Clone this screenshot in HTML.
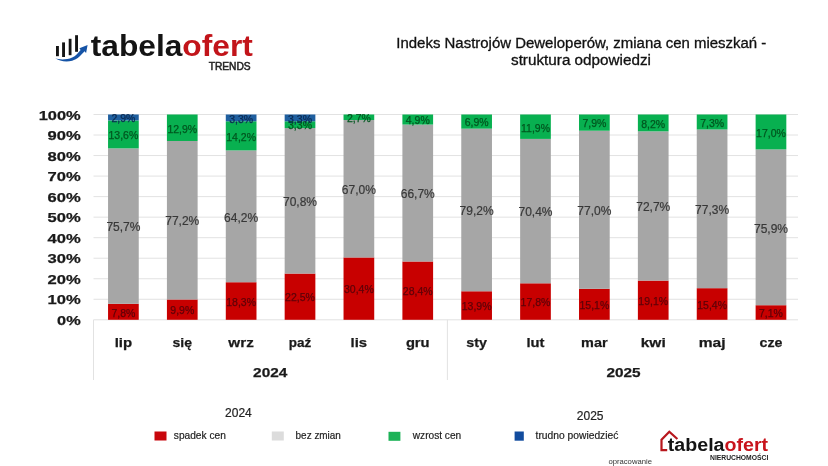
<!DOCTYPE html>
<html lang="pl"><head><meta charset="utf-8"><title>Indeks Nastrojów Deweloperów</title>
<style>
html,body{margin:0;padding:0;background:#fff;}
body{width:828px;height:466px;overflow:hidden;font-family:"Liberation Sans",sans-serif;}
svg{display:block;will-change:transform;}
svg text{font-family:"Liberation Sans",sans-serif;}
.ax{font-weight:bold;font-size:13.4px;fill:#1a1a1a;stroke:#1a1a1a;stroke-width:0.25px;}
.dl{font-size:10.5px;text-anchor:middle;stroke-width:0.25px;}
.dg{font-size:12px;text-anchor:middle;stroke-width:0.2px;}
.lg{font-size:10.6px;fill:#1e1e1e;stroke:#1e1e1e;stroke-width:0.2px;}
.ttl{font-size:14px;fill:#111;stroke:#111;stroke-width:0.3px;text-anchor:middle;}
</style></head><body>
<svg width="828" height="466" viewBox="0 0 828 466">
<rect width="828" height="466" fill="#ffffff"/>
<g stroke="#E2E2E2" stroke-width="1" fill="none">
<line x1="93.5" y1="319.8" x2="798" y2="319.8"/>
<line x1="93.5" y1="299.27" x2="798" y2="299.27"/>
<line x1="93.5" y1="278.74" x2="798" y2="278.74"/>
<line x1="93.5" y1="258.21" x2="798" y2="258.21"/>
<line x1="93.5" y1="237.68" x2="798" y2="237.68"/>
<line x1="93.5" y1="217.15" x2="798" y2="217.15"/>
<line x1="93.5" y1="196.62" x2="798" y2="196.62"/>
<line x1="93.5" y1="176.09" x2="798" y2="176.09"/>
<line x1="93.5" y1="155.56" x2="798" y2="155.56"/>
<line x1="93.5" y1="135.03" x2="798" y2="135.03"/>
<line x1="93.5" y1="114.5" x2="798" y2="114.5"/>
<line x1="93.5" y1="319.8" x2="93.5" y2="380"/>
<line x1="447.4" y1="319.8" x2="447.4" y2="380"/>
</g>
<g class="ax" text-anchor="end">
<text x="80.7" y="325" textLength="23.6" lengthAdjust="spacingAndGlyphs">0%</text>
<text x="80.7" y="304.47" textLength="33.2" lengthAdjust="spacingAndGlyphs">10%</text>
<text x="80.7" y="283.94" textLength="33.2" lengthAdjust="spacingAndGlyphs">20%</text>
<text x="80.7" y="263.41" textLength="33.2" lengthAdjust="spacingAndGlyphs">30%</text>
<text x="80.7" y="242.88" textLength="33.2" lengthAdjust="spacingAndGlyphs">40%</text>
<text x="80.7" y="222.35" textLength="33.2" lengthAdjust="spacingAndGlyphs">50%</text>
<text x="80.7" y="201.82" textLength="33.2" lengthAdjust="spacingAndGlyphs">60%</text>
<text x="80.7" y="181.29" textLength="33.2" lengthAdjust="spacingAndGlyphs">70%</text>
<text x="80.7" y="160.76" textLength="33.2" lengthAdjust="spacingAndGlyphs">80%</text>
<text x="80.7" y="140.23" textLength="33.2" lengthAdjust="spacingAndGlyphs">90%</text>
<text x="80.7" y="119.7" textLength="42" lengthAdjust="spacingAndGlyphs">100%</text>
</g>
<rect x="108.05" y="303.79" width="30.7" height="16.01" fill="#C80000"/>
<rect x="108.05" y="148.37" width="30.7" height="155.41" fill="#A6A6A6"/>
<rect x="108.05" y="120.45" width="30.7" height="27.92" fill="#08B050"/>
<rect x="108.05" y="114.5" width="30.7" height="5.95" fill="#1F5F9F"/>
<rect x="166.92" y="299.48" width="30.7" height="20.32" fill="#C80000"/>
<rect x="166.92" y="140.98" width="30.7" height="158.49" fill="#A6A6A6"/>
<rect x="166.92" y="114.5" width="30.7" height="26.48" fill="#08B050"/>
<rect x="225.79" y="282.23" width="30.7" height="37.57" fill="#C80000"/>
<rect x="225.79" y="150.43" width="30.7" height="131.8" fill="#A6A6A6"/>
<rect x="225.79" y="121.27" width="30.7" height="29.15" fill="#08B050"/>
<rect x="225.79" y="114.5" width="30.7" height="6.77" fill="#1F5F9F"/>
<rect x="284.66" y="273.56" width="30.7" height="46.24" fill="#C80000"/>
<rect x="284.66" y="128.06" width="30.7" height="145.5" fill="#A6A6A6"/>
<rect x="284.66" y="121.28" width="30.7" height="6.78" fill="#08B050"/>
<rect x="284.66" y="114.5" width="30.7" height="6.78" fill="#1F5F9F"/>
<rect x="343.53" y="257.45" width="30.7" height="62.35" fill="#C80000"/>
<rect x="343.53" y="120.04" width="30.7" height="137.41" fill="#A6A6A6"/>
<rect x="343.53" y="114.5" width="30.7" height="5.54" fill="#08B050"/>
<rect x="402.4" y="261.49" width="30.7" height="58.31" fill="#C80000"/>
<rect x="402.4" y="124.56" width="30.7" height="136.94" fill="#A6A6A6"/>
<rect x="402.4" y="114.5" width="30.7" height="10.06" fill="#08B050"/>
<rect x="461.27" y="291.26" width="30.7" height="28.54" fill="#C80000"/>
<rect x="461.27" y="128.67" width="30.7" height="162.6" fill="#A6A6A6"/>
<rect x="461.27" y="114.5" width="30.7" height="14.17" fill="#08B050"/>
<rect x="520.14" y="283.29" width="30.7" height="36.51" fill="#C80000"/>
<rect x="520.14" y="138.91" width="30.7" height="144.39" fill="#A6A6A6"/>
<rect x="520.14" y="114.5" width="30.7" height="24.41" fill="#08B050"/>
<rect x="579.01" y="288.8" width="30.7" height="31" fill="#C80000"/>
<rect x="579.01" y="130.72" width="30.7" height="158.08" fill="#A6A6A6"/>
<rect x="579.01" y="114.5" width="30.7" height="16.22" fill="#08B050"/>
<rect x="637.88" y="280.59" width="30.7" height="39.21" fill="#C80000"/>
<rect x="637.88" y="131.33" width="30.7" height="149.25" fill="#A6A6A6"/>
<rect x="637.88" y="114.5" width="30.7" height="16.83" fill="#08B050"/>
<rect x="696.75" y="288.18" width="30.7" height="31.62" fill="#C80000"/>
<rect x="696.75" y="129.49" width="30.7" height="158.7" fill="#A6A6A6"/>
<rect x="696.75" y="114.5" width="30.7" height="14.99" fill="#08B050"/>
<rect x="755.62" y="305.22" width="30.7" height="14.58" fill="#C80000"/>
<rect x="755.62" y="149.4" width="30.7" height="155.82" fill="#A6A6A6"/>
<rect x="755.62" y="114.5" width="30.7" height="34.9" fill="#08B050"/>
<text class="dl" fill="#5e0008" stroke="#5e0008" x="123.4" y="316.59">7,8%</text>
<text class="dg" fill="#383838" stroke="#383838" x="123.4" y="231.28">75,7%</text>
<text class="dl" fill="#00561f" stroke="#00561f" x="123.4" y="139.21">13,6%</text>
<text class="dl" fill="#0a2a52" stroke="#0a2a52" x="123.4" y="122.28">2,9%</text>
<text class="dl" fill="#5e0008" stroke="#5e0008" x="182.27" y="314.44">9,9%</text>
<text class="dg" fill="#383838" stroke="#383838" x="182.27" y="225.43">77,2%</text>
<text class="dl" fill="#00561f" stroke="#00561f" x="182.27" y="132.54">12,9%</text>
<text class="dl" fill="#5e0008" stroke="#5e0008" x="241.14" y="305.82">18,3%</text>
<text class="dg" fill="#383838" stroke="#383838" x="241.14" y="221.53">64,2%</text>
<text class="dl" fill="#00561f" stroke="#00561f" x="241.14" y="140.65">14,2%</text>
<text class="dl" fill="#0a2a52" stroke="#0a2a52" x="241.14" y="122.69">3,3%</text>
<text class="dl" fill="#5e0008" stroke="#5e0008" x="300.01" y="301.48">22,5%</text>
<text class="dg" fill="#383838" stroke="#383838" x="300.01" y="206.01">70,8%</text>
<text class="dl" fill="#00561f" stroke="#00561f" x="300.01" y="129.47">3,3%</text>
<text class="dl" fill="#0a2a52" stroke="#0a2a52" x="300.01" y="122.69">3,3%</text>
<text class="dl" fill="#5e0008" stroke="#5e0008" x="358.88" y="293.43">30,4%</text>
<text class="dg" fill="#383838" stroke="#383838" x="358.88" y="193.94">67,0%</text>
<text class="dl" fill="#00561f" stroke="#00561f" x="358.88" y="122.07">2,7%</text>
<text class="dl" fill="#5e0008" stroke="#5e0008" x="417.75" y="295.45">28,4%</text>
<text class="dg" fill="#383838" stroke="#383838" x="417.75" y="198.23">66,7%</text>
<text class="dl" fill="#00561f" stroke="#00561f" x="417.75" y="124.33">4,9%</text>
<text class="dl" fill="#5e0008" stroke="#5e0008" x="476.62" y="310.33">13,9%</text>
<text class="dg" fill="#383838" stroke="#383838" x="476.62" y="215.16">79,2%</text>
<text class="dl" fill="#00561f" stroke="#00561f" x="476.62" y="126.38">6,9%</text>
<text class="dl" fill="#5e0008" stroke="#5e0008" x="535.49" y="306.35">17,8%</text>
<text class="dg" fill="#383838" stroke="#383838" x="535.49" y="216.3">70,4%</text>
<text class="dl" fill="#00561f" stroke="#00561f" x="535.49" y="131.5">11,9%</text>
<text class="dl" fill="#5e0008" stroke="#5e0008" x="594.36" y="309.1">15,1%</text>
<text class="dg" fill="#383838" stroke="#383838" x="594.36" y="214.96">77,0%</text>
<text class="dl" fill="#00561f" stroke="#00561f" x="594.36" y="127.41">7,9%</text>
<text class="dl" fill="#5e0008" stroke="#5e0008" x="653.23" y="304.99">19,1%</text>
<text class="dg" fill="#383838" stroke="#383838" x="653.23" y="211.16">72,7%</text>
<text class="dl" fill="#00561f" stroke="#00561f" x="653.23" y="127.72">8,2%</text>
<text class="dl" fill="#5e0008" stroke="#5e0008" x="712.1" y="308.79">15,4%</text>
<text class="dg" fill="#383838" stroke="#383838" x="712.1" y="214.04">77,3%</text>
<text class="dl" fill="#00561f" stroke="#00561f" x="712.1" y="126.79">7,3%</text>
<text class="dl" fill="#5e0008" stroke="#5e0008" x="770.97" y="317.31">7,1%</text>
<text class="dg" fill="#383838" stroke="#383838" x="770.97" y="232.51">75,9%</text>
<text class="dl" fill="#00561f" stroke="#00561f" x="770.97" y="136.75">17,0%</text>
<g class="ax" text-anchor="middle">
<text x="123.4" y="347" textLength="17.5" lengthAdjust="spacingAndGlyphs">lip</text>
<text x="182.27" y="347" textLength="19.5" lengthAdjust="spacingAndGlyphs">się</text>
<text x="241.14" y="347" textLength="25.5" lengthAdjust="spacingAndGlyphs">wrz</text>
<text x="300.01" y="347" textLength="22.5" lengthAdjust="spacingAndGlyphs">paź</text>
<text x="358.88" y="347" textLength="16.5" lengthAdjust="spacingAndGlyphs">lis</text>
<text x="417.75" y="347" textLength="23.7" lengthAdjust="spacingAndGlyphs">gru</text>
<text x="476.62" y="347" textLength="20.6" lengthAdjust="spacingAndGlyphs">sty</text>
<text x="535.49" y="347" textLength="18" lengthAdjust="spacingAndGlyphs">lut</text>
<text x="594.36" y="347" textLength="26.5" lengthAdjust="spacingAndGlyphs">mar</text>
<text x="653.23" y="347" textLength="25" lengthAdjust="spacingAndGlyphs">kwi</text>
<text x="712.1" y="347" textLength="26.8" lengthAdjust="spacingAndGlyphs">maj</text>
<text x="770.97" y="347" textLength="22.9" lengthAdjust="spacingAndGlyphs">cze</text>
<text x="270.2" y="376.6" textLength="34.2" lengthAdjust="spacingAndGlyphs">2024</text>
<text x="623.5" y="376.6" textLength="34.2" lengthAdjust="spacingAndGlyphs">2025</text>
</g>
<text class="ttl" x="581.3" y="48.2" textLength="370" lengthAdjust="spacingAndGlyphs">Indeks Nastrojów Deweloperów, zmiana cen mieszkań -</text>
<text class="ttl" x="581" y="64.6" textLength="140" lengthAdjust="spacingAndGlyphs">struktura odpowiedzi</text>
<g id="logo-trends">
<g fill="#141414">
<rect x="56" y="46" width="2.9" height="10.2"/>
<rect x="62.1" y="42.4" width="2.9" height="14.6"/>
<rect x="68.7" y="38.8" width="2.8" height="16.4"/>
<rect x="75.1" y="35.2" width="2.9" height="16.6"/>
</g>
<path d="M55.3 58.3 C59 59.6 66 60.2 72.2 57.5 C75.5 56 78.5 52.5 80.6 49.9 L79.4 48.2 L87.6 45.1 L86.1 52.9 L84.4 51.3 C81.5 55 77 59.5 72.2 60.7 C66 62.5 59 61 55.3 58.3 Z" fill="#1553A6"/>
<text x="90.8" y="55.5" font-size="28.6" font-weight="bold" textLength="162" lengthAdjust="spacingAndGlyphs"><tspan fill="#141414">tabela</tspan><tspan fill="#C2141A">ofert</tspan></text>
<text x="208.7" y="70.2" font-size="11.3" fill="#242424" stroke="#242424" stroke-width="0.55" textLength="42" lengthAdjust="spacingAndGlyphs">TRENDS</text>
</g>
<text x="238.4" y="417.2" font-size="12" fill="#222" stroke="#222" stroke-width="0.2" text-anchor="middle">2024</text>
<text x="590.2" y="419.6" font-size="12" fill="#222" stroke="#222" stroke-width="0.2" text-anchor="middle">2025</text>
<rect x="154.5" y="431.5" width="12" height="9" fill="#C8060C"/>
<text class="lg" x="173.8" y="438.5" textLength="52" lengthAdjust="spacingAndGlyphs">spadek cen</text>
<rect x="271.8" y="431.5" width="12" height="9" fill="#DCDCDC"/>
<text class="lg" x="295.6" y="438.5" textLength="45.3" lengthAdjust="spacingAndGlyphs">bez zmian</text>
<rect x="388.5" y="431.8" width="11.9" height="9" fill="#1DB257"/>
<text class="lg" x="412.8" y="439.1" textLength="48.4" lengthAdjust="spacingAndGlyphs">wzrost cen</text>
<rect x="514.6" y="431.5" width="9.2" height="9.2" fill="#124C9E"/>
<text class="lg" x="535.6" y="439.1" textLength="82.8" lengthAdjust="spacingAndGlyphs">trudno powiedzieć</text>
<text x="608.4" y="464.2" font-size="7.6" fill="#333" textLength="43.6" lengthAdjust="spacingAndGlyphs">opracowanie</text>
<g id="logo-nier">
<path d="M667.2 450.2 L661.5 450.2 L661.5 439.7 L669.3 431.7 L677.4 439" fill="none" stroke="#B8171D" stroke-width="2.2" stroke-linejoin="miter" stroke-linecap="butt"/>
<text x="667.8" y="450.9" font-size="18" font-weight="bold" textLength="100.3" lengthAdjust="spacingAndGlyphs"><tspan fill="#141414">tabela</tspan><tspan fill="#C8141C">ofert</tspan></text>
<text x="710" y="460" font-size="6.6" font-weight="bold" fill="#222" textLength="58.3" lengthAdjust="spacingAndGlyphs">NIERUCHOMOŚCI</text>
</g>
</svg>
</body></html>
